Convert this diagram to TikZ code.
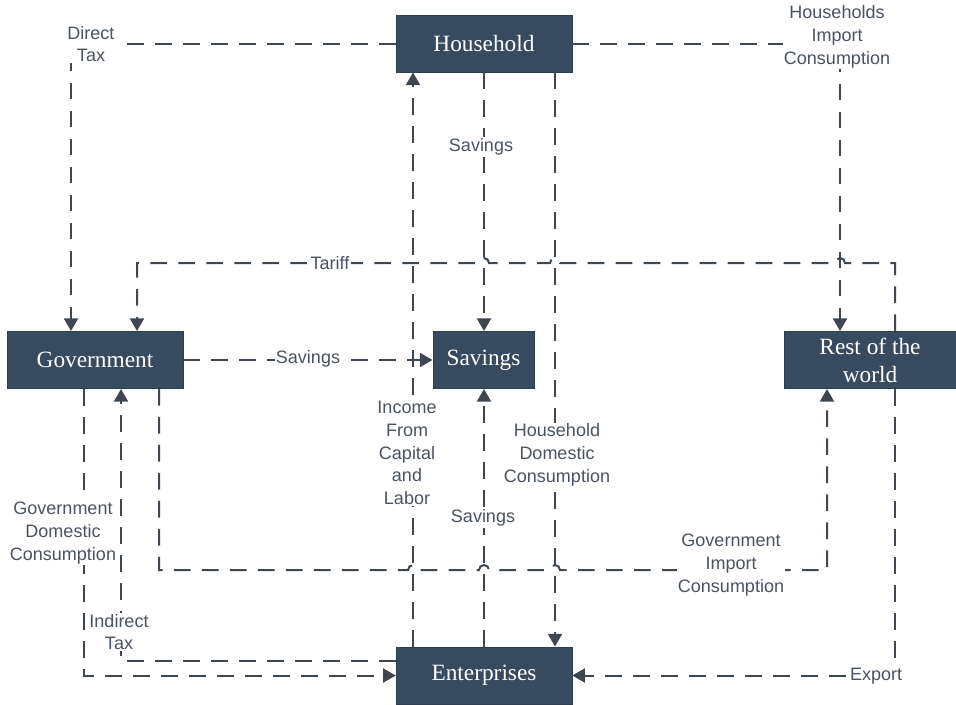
\documentclass[tikz,border=0pt]{standalone}
\usepackage{fontspec}
\setmainfont{Liberation Serif}
\setsansfont{Liberation Sans}
\usetikzlibrary{arrows.meta}
\definecolor{boxblue}{RGB}{54,74,96}
\definecolor{flowgray}{RGB}{62,70,80}
\definecolor{labelgray}{RGB}{74,84,96}
\begin{document}
\begin{tikzpicture}[x=0.75pt,y=0.75pt,yscale=-1,xscale=1,
    sector/.style={fill=boxblue,draw=boxblue!85!black,text=white,inner sep=0pt,align=center,
      font=\fontsize{17.5}{21}\selectfont,minimum height=43pt},
    flow/.style={draw=flowgray,line width=1.5pt,dash pattern=on 12.5pt off 8.5pt,
      -{Triangle[length=9.5pt,width=10.5pt]}},
    flowlabel/.style={fill=white,inner sep=1pt,align=center,text=labelgray,
      font=\sffamily\fontsize{13.5}{17}\selectfont}]
    \useasboundingbox (0,0) rectangle (956,704);

    %Shape: Rectangle [id:household]
    \node[sector,minimum width=132pt] (hh) at (484,43.5) {Household};
    %Shape: Rectangle [id:government]
    \node[sector,minimum width=132pt] (gov) at (95,360) {Government};
    %Shape: Rectangle [id:savings]
    \node[sector,minimum width=76pt] (sav) at (483.5,360) {Savings};
    %Shape: Rectangle [id:restworld]
    \node[sector,minimum width=129pt] (row) at (870,360) {Rest of the\\world};
    %Shape: Rectangle [id:enterprises]
    \node[sector,minimum width=132pt] (ent) at (484,675.5) {Enterprises};

    %Straight Lines [id:directtax]
    \draw[flow] (hh.west) -| (gov.north -| 71,0);
    %Straight Lines [id:hhimport]
    \draw[flow] (hh.east) -| (row.north -| 840,0);
    %Straight Lines [id:tariff]
    \draw[flow] (row.north -| 895,0) -- (895,263) -- (845,263) arc[start angle=0,end angle=-180,radius=5]
      -- (560,263) arc[start angle=0,end angle=-180,radius=5]
      -- (489,263) arc[start angle=0,end angle=-180,radius=5]
      -- (137,263) -- (gov.north -| 137,0);
    %Straight Lines [id:govsavings]
    \draw[flow] (gov.east) -- (sav.west);
    %Straight Lines [id:hhsavings]
    \draw[flow] (hh.south) -- (hh.south |- sav.north);
    %Straight Lines [id:hhdomestic]
    \draw[flow] (hh.south -| 555,0) -- (ent.north -| 555,0);
    %Straight Lines [id:income]
    \draw[flow] (ent.north -| 413,0) -- (hh.south -| 413,0);
    %Straight Lines [id:entsavings]
    \draw[flow] (ent.north) -- (ent.north |- sav.south);
    %Straight Lines [id:govdomestic]
    \draw[flow] (gov.south -| 84,0) |- (ent.west);
    %Straight Lines [id:indirecttax]
    \draw[flow] (ent.west |- 0,661) -| (gov.south -| 121,0);
    %Straight Lines [id:govimport]
    \draw[flow] (gov.south -| 159,0) -- (159,570) -- (408,570) arc[start angle=180,end angle=360,radius=5]
      -- (479,570) arc[start angle=180,end angle=360,radius=5]
      -- (550,570) arc[start angle=180,end angle=360,radius=5]
      -- (827,570) -- (row.south -| 827,0);
    %Straight Lines [id:export]
    \draw[flow] (row.south -| 895,0) |- (ent.east);

    % Text Node
    \node[flowlabel] (ldirect) at (91,44) {Direct\\Tax};
    % Text Node
    \node[flowlabel] (lhhimport) at (837,37) {Households\\Import\\Consumption};
    % Text Node
    \node[flowlabel] (ltariff) at (330,263) {Tariff};
    % Text Node
    \node[flowlabel] (lgovsav) at (308,359) {Savings};
    % Text Node
    \node[flowlabel] (lhhsav) at (481,147) {Savings};
    % Text Node
    \node[flowlabel] (lhhdom) at (557,455) {Household\\Domestic\\Consumption};
    % Text Node
    \node[flowlabel] (lincome) at (407,453) {Income\\From\\Capital\\and\\Labor};
    % Text Node
    \node[flowlabel] (lentsav) at (483,518) {Savings};
    % Text Node
    \node[flowlabel] (lgovdom) at (63,533) {Government\\Domestic\\Consumption};
    % Text Node
    \node[flowlabel] (lindirect) at (119,632) {Indirect\\Tax};
    % Text Node
    \node[flowlabel] (lgovimp) at (731,565) {Government\\Import\\Consumption};
    % Text Node
    \node[flowlabel] (lexport) at (876,676) {Export};

\end{tikzpicture}
\end{document}
